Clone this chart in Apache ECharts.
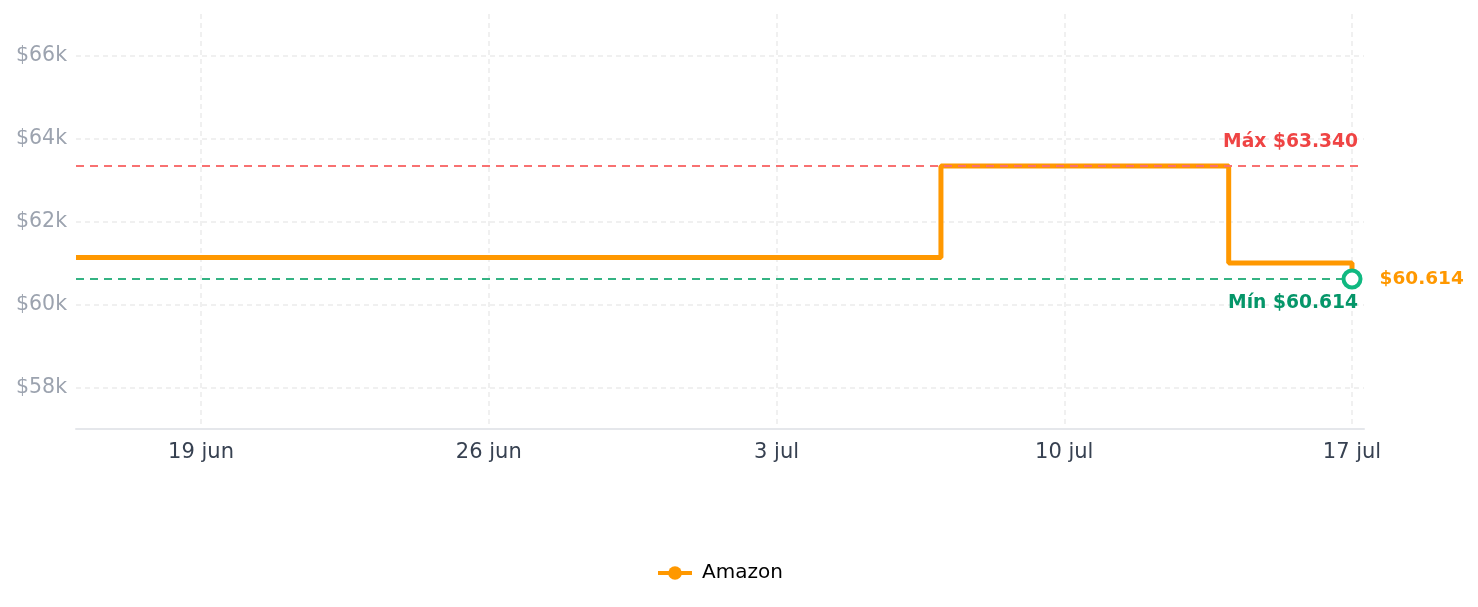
<!DOCTYPE html>
<html>
<head>
<meta charset="utf-8">
<script src="https://cdn.jsdelivr.net/npm/echarts@6/dist/echarts.min.js"></script>
<style>html,body{margin:0;padding:0;background:#fff}#c{width:1478px;height:607px}</style>
</head>
<body>
<div id="c"></div>
<script>
// ---- data ----
var seriesName = 'Amazon';
var pointDates = ['2025-06-15T23:00', '2025-07-07T00:00', '2025-07-14T00:00', '2025-07-17T00:00'];
var prices = [61130, 63340, 61000, 60614];
var tickDates = ['2025-06-19T00:00', '2025-06-26T00:00', '2025-07-03T00:00', '2025-07-10T00:00', '2025-07-17T00:00'];
var tickLabels = ['19 jun', '26 jun', '3 jul', '10 jul', '17 jul'];
var yTicks = [58000, 60000, 62000, 64000, 66000];
var maxPrice = 63340;
var minPrice = 60614;
var lastPrice = 60614;
var axisMinDate = '2025-06-15T23:00';
var axisMaxDate = '2025-07-17T07:00';

function ts(s) {
  var p = s.split('T'); var d = p[0].split('-'); var t = p[1].split(':');
  return Date.UTC(+d[0], +d[1] - 1, +d[2], +t[0], +t[1]);
}
function money(v) {
  return '$' + String(v).replace(/\B(?=(\d{3})+(?!\d))/g, '.');
}
var tickTs = tickDates.map(ts);
var lineData = pointDates.map(function (d, i) { return [ts(d), prices[i]]; });
var font = 'DejaVu Sans';

var chart = echarts.init(document.getElementById('c'), null, {renderer: 'canvas'});
chart.setOption({
  animation: false,
  backgroundColor: '#fff',
  grid: {left: 76, right: 114, top: 14, bottom: 178},
  legend: {
    data: [seriesName],
    top: 558, left: 651,
    itemWidth: 34, itemHeight: 17,
    lineStyle: {width: 4},
    textStyle: {fontFamily: font, fontSize: 20, color: '#000', padding: [0, 0, 0, 5]}
  },
  xAxis: {
    type: 'value',
    min: ts(axisMinDate), max: ts(axisMaxDate),
    axisLine: {show: true, lineStyle: {color: '#e5e7eb', width: 2}},
    axisTick: {show: false, customValues: tickTs},
    axisLabel: {
      customValues: tickTs,
      margin: 13,
      fontFamily: font, fontSize: 21, color: '#374151',
      formatter: function (v) {
        var i = tickTs.indexOf(v);
        return i >= 0 ? tickLabels[i] : '';
      }
    },
    splitLine: {show: true, lineStyle: {color: '#f0f0f0', width: 2, type: [5, 4]}}
  },
  yAxis: {
    type: 'value',
    min: 57000, max: 67000,
    axisLine: {show: false},
    axisTick: {show: false, customValues: yTicks},
    axisLabel: {
      customValues: yTicks,
      margin: 9,
      fontFamily: font, fontSize: 20.5, color: '#9ca3af',
      formatter: function (v) { return '$' + (v / 1000) + 'k'; }
    },
    splitLine: {show: true, lineStyle: {color: '#f0f0f0', width: 2, type: [5, 4]}}
  },
  series: [{
    name: seriesName,
    type: 'line',
    step: 'end',
    data: lineData,
    symbol: 'circle',
    symbolSize: 12,
    showSymbol: false,
    color: '#ff9800',
    lineStyle: {color: '#ff9800', width: 5},
    itemStyle: {color: '#ff9800'},
    markLine: {
      silent: true,
      symbol: 'none',
      data: [
        {yAxis: maxPrice, lineStyle: {color: '#f87171', width: 2, type: [8, 6]},
         label: {show: true, position: 'insideEndTop', distance: [6, 14], formatter: 'Máx ' + money(maxPrice),
                 color: '#ef4444', fontFamily: font, fontWeight: 'bold', fontSize: 18.7}},
        {yAxis: minPrice, lineStyle: {color: '#34b383', width: 2, type: [8, 6]},
         label: {show: true, position: 'insideEndBottom', distance: [6, 15], formatter: 'Mín ' + money(minPrice),
                 color: '#059669', fontFamily: font, fontWeight: 'bold', fontSize: 18.7}}
      ]
    },
    markPoint: {
      silent: true,
      data: [{
        coord: [ts(pointDates[pointDates.length - 1]), lastPrice],
        symbol: 'circle', symbolSize: 17,
        itemStyle: {color: '#fff', borderColor: '#10b981', borderWidth: 4},
        label: {show: true, position: 'right', distance: 17, formatter: money(lastPrice),
                color: '#ff9800', fontFamily: font, fontWeight: 'bold', fontSize: 18.5}
      }]
    }
  }]
});
</script>
</body>
</html>
